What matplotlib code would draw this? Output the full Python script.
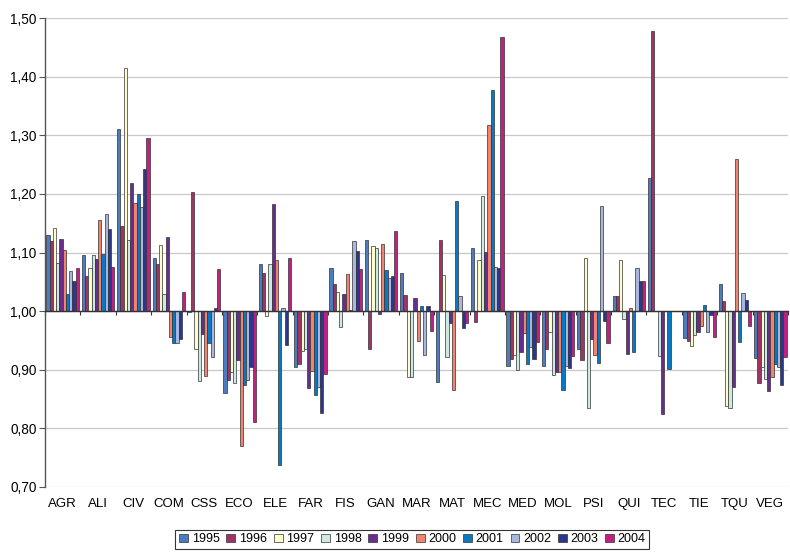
import matplotlib
matplotlib.use("Agg")
import matplotlib.pyplot as plt
import numpy as np
from matplotlib.ticker import FuncFormatter, FixedLocator

categories = ["AGR", "ALI", "CIV", "COM", "CSS", "ECO", "ELE", "FAR", "FIS", "GAN", "MAR",
              "MAT", "MEC", "MED", "MOL", "PSI", "QUI", "TEC", "TIE", "TQU", "VEG"]
years = ["1995", "1996", "1997", "1998", "1999", "2000", "2001", "2002", "2003", "2004"]

v1995 = [1.129, 1.095, 1.311, 1.090, 0.998, 0.860, 1.080, 0.904, 1.073, 1.122, 1.065,
         0.879, 1.107, 0.906, 0.906, 0.936, 1.026, 1.227, 0.955, 1.046, 0.920]
v1996 = [1.120, 1.060, 1.146, 1.080, 1.203, 0.882, 1.065, 0.910, 1.047, 0.935, 1.027,
         1.122, 0.982, 0.918, 0.935, 0.917, 1.025, 1.477, 0.949, 1.017, 0.877]
v1997 = [1.141, 1.073, 1.414, 1.113, 0.936, 0.897, 0.992, 0.932, 1.033, 1.111, 0.887,
         1.062, 1.087, 0.925, 0.965, 1.090, 1.087, 1.000, 0.940, 0.839, 0.904]
v1998 = [1.082, 1.095, 1.122, 1.029, 0.881, 0.878, 1.080, 0.935, 0.973, 1.107, 0.887,
         0.922, 1.196, 0.900, 0.891, 0.834, 0.987, 0.923, 0.960, 0.834, 0.885]
v1999 = [1.123, 1.089, 1.218, 1.127, 0.961, 0.916, 1.182, 0.869, 1.029, 0.995, 1.023,
         0.979, 1.100, 0.931, 0.897, 0.953, 0.927, 0.824, 0.965, 0.871, 0.863]
v2000 = [1.105, 1.156, 1.184, 0.956, 0.890, 0.770, 1.087, 0.898, 1.064, 1.114, 0.949,
         0.866, 1.318, 0.962, 0.896, 0.925, 1.005, 1.000, 0.975, 1.259, 0.888]
v2001 = [1.030, 1.098, 1.200, 0.945, 0.945, 0.874, 0.737, 0.857, 1.002, 1.070, 1.009,
         1.187, 1.378, 0.909, 0.866, 0.911, 0.930, 0.902, 1.010, 0.947, 0.910]
v2002 = [1.069, 1.166, 1.177, 0.945, 0.922, 0.882, 1.006, 0.870, 1.119, 1.057, 0.926,
         1.025, 1.075, 0.939, 0.906, 1.179, 1.073, 1.000, 0.964, 1.031, 0.905]
v2003 = [1.051, 1.140, 1.242, 0.953, 1.006, 0.905, 0.943, 0.826, 1.103, 1.060, 1.009,
         0.972, 1.073, 0.918, 0.903, 0.983, 1.052, 1.000, 0.993, 1.019, 0.874]
v2004 = [1.074, 1.075, 1.295, 1.033, 1.072, 0.811, 1.090, 0.893, 1.072, 1.136, 0.966,
         0.979, 1.467, 0.948, 0.923, 0.945, 1.052, 1.000, 0.956, 0.975, 0.921]

series = [v1995, v1996, v1997, v1998, v1999, v2000, v2001, v2002, v2003, v2004]
colors = ["#4A7CC0", "#9E3366", "#FFFBCF", "#CDE9E2", "#692D8E",
          "#F2836F", "#0878C4", "#A9B7DE", "#2A3791", "#C21F82"]

plt.rcParams['font.family'] = ['Liberation Sans', 'DejaVu Sans']

fig = plt.figure(figsize=(7.9, 5.55), dpi=100)
ax = fig.add_axes([45/790, 68/555, 743/790, 469/555])

n = len(categories)
x = np.arange(n)
nb = len(series)
group = 0.92
w = group / nb
base = 1.0
for i, (vals, col, yr) in enumerate(zip(series, colors, years)):
    vals = np.array(vals)
    ax.bar(x - group/2 + w*(i + 0.5), vals - base, width=w, bottom=base,
           color=col, edgecolor="#333333", linewidth=0.5, label=yr, zorder=3)

ax.set_xlim(-0.5, n - 0.5)
ax.set_ylim(0.70, 1.50)
ax.yaxis.set_major_locator(FixedLocator(np.round(np.arange(0.70, 1.501, 0.10), 2)))
ax.yaxis.set_major_formatter(FuncFormatter(lambda v, p: f"{v:.2f}".replace(".", ",")))
ax.grid(axis="y", color="#C8C8C8", linewidth=0.9, zorder=0)
ax.set_axisbelow(True)

for s in ["top", "right"]:
    ax.spines[s].set_visible(False)
ax.spines["left"].set_color("#555555")
ax.spines["left"].set_linewidth(1.0)
ax.spines["bottom"].set_position(("data", 1.0))
ax.spines["bottom"].set_color("#333333")
ax.spines["bottom"].set_linewidth(1.0)
ax.spines["bottom"].set_zorder(4)

ax.tick_params(axis="y", labelsize=9.8, length=4, color="#555555", pad=2)
ax.set_xticks(np.arange(n + 1) - 0.5)
ax.set_xticklabels([])
ax.tick_params(axis="x", length=3, color="#333333", direction="out")

sec = ax.secondary_xaxis(0.0)
sec.set_xticks(x)
sec.set_xticklabels(categories)
sec.tick_params(axis="x", length=0, labelsize=9.5, pad=8)
sec.spines["bottom"].set_visible(False)

leg = fig.legend(loc="center", bbox_to_anchor=(0.522, 0.028), ncol=10, fontsize=9,
                 frameon=True, fancybox=False, edgecolor="black",
                 handlelength=0.7, handleheight=0.7, handletextpad=0.3,
                 columnspacing=0.55, borderpad=0.3)
leg.get_frame().set_linewidth(0.8)

fig.savefig("out.png", dpi=100)
